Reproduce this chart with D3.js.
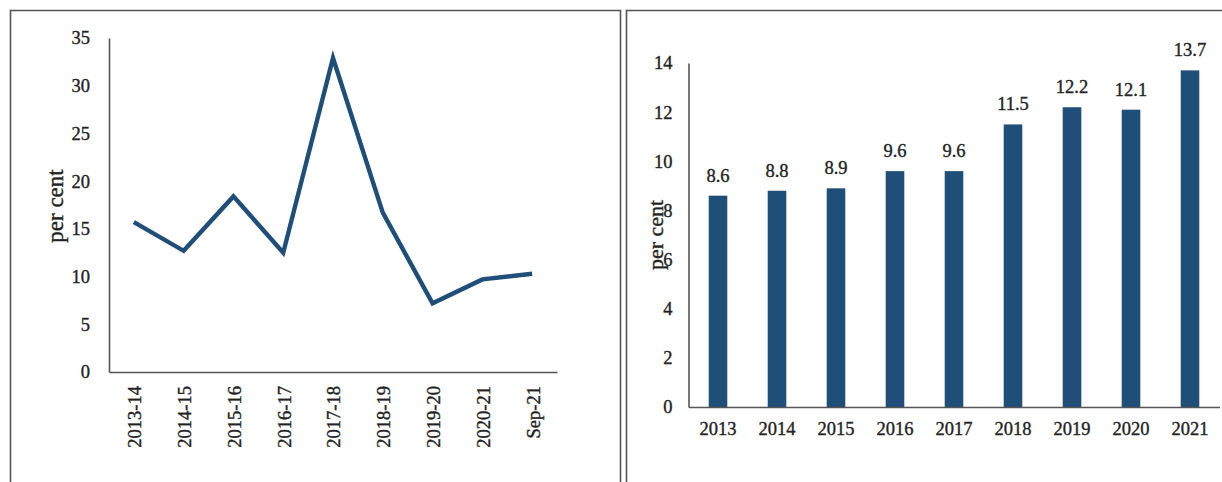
<!DOCTYPE html>
<html>
<head>
<meta charset="utf-8">
<script src="https://cdn.jsdelivr.net/npm/d3@7"></script>
<style>
  html, body { margin: 0; padding: 0; background: #fff; }
  svg { display: block; }
  text { font-family: "Liberation Serif", "DejaVu Serif", serif; fill: #222; stroke: #222; stroke-width: 0.35px; }
</style>
</head>
<body>
<svg id="chart" width="1222" height="482"></svg>
<script>
// Left panel: growth, per cent, by fiscal year
const lineCategories = ["2013-14", "2014-15", "2015-16", "2016-17", "2017-18", "2018-19", "2019-20", "2020-21", "Sep-21"];
const lineValues = [15.7, 12.7, 18.4, 12.5, 32.9, 16.7, 7.2, 9.7, 10.3];
const lineTicks = [0, 5, 10, 15, 20, 25, 30, 35];

// Right panel: share, per cent, by year
const barCategories = ["2013", "2014", "2015", "2016", "2017", "2018", "2019", "2020", "2021"];
const barValues = [8.6, 8.8, 8.9, 9.6, 9.6, 11.5, 12.2, 12.1, 13.7];
const barTicks = [0, 2, 4, 6, 8, 10, 12, 14];

const navy = "#1f4e79";
const axisColor = "#555";
const svg = d3.select("#chart");

// Panel frames (open at the bottom)
svg.append("path")
  .attr("d", "M10.5,482 V10.5 H620.5 V482")
  .attr("fill", "none").attr("stroke", "#555").attr("stroke-width", 1.6);
svg.append("path")
  .attr("d", "M626.5,482 V10.5 H1222")
  .attr("fill", "none").attr("stroke", "#555").attr("stroke-width", 1.6);

function styleAxis(g) {
  g.select(".domain").attr("stroke", axisColor).attr("stroke-width", 1.6);
  g.selectAll("text").attr("font-size", 18.5).attr("fill", "#222")
    .attr("font-family", "'Liberation Serif', serif");
}

// ---- Line chart ----
const xL = d3.scaleBand().domain(lineCategories).range([109, 557]);
const yL = d3.scaleLinear().domain([0, 35]).range([372, 38]);

svg.append("g")
  .attr("transform", "translate(109,0)")
  .call(d3.axisLeft(yL).tickValues(lineTicks).tickSize(0).tickSizeOuter(0).tickPadding(19))
  .call(styleAxis);

const gxL = svg.append("g")
  .attr("transform", "translate(0,372)")
  .call(d3.axisBottom(xL).tickSize(0).tickSizeOuter(0))
  .call(styleAxis);
gxL.selectAll(".tick text")
  .attr("text-anchor", "end")
  .attr("dy", "0.35em")
  .attr("transform", "translate(1,14) rotate(-90)")
  .attr("x", 0).attr("y", 0);

svg.append("path")
  .datum(lineValues)
  .attr("fill", "none")
  .attr("stroke", navy)
  .attr("stroke-width", 4.4)
  .attr("stroke-linejoin", "miter")
  .attr("d", d3.line()
    .x((d, i) => xL(lineCategories[i]) + xL.bandwidth() / 2)
    .y(d => yL(d)));

svg.append("text")
  .attr("transform", "translate(55,206) rotate(-90)")
  .attr("text-anchor", "middle")
  .attr("dy", "0.35em")
  .attr("font-size", 23)
  .text("per cent");

// ---- Bar chart ----
const xR = d3.scaleBand().domain(barCategories).range([688.5, 1219.5]);
const yR = d3.scaleLinear().domain([0, 14]).range([407, 63]);
const barW = xR.bandwidth() * 0.315;

svg.selectAll("rect.bar")
  .data(barValues)
  .join("rect")
  .attr("class", "bar")
  .attr("x", (d, i) => xR(barCategories[i]) + (xR.bandwidth() - barW) / 2)
  .attr("width", barW)
  .attr("y", d => yR(d))
  .attr("height", d => yR(0) - yR(d))
  .attr("fill", navy);

svg.selectAll("text.val")
  .data(barValues)
  .join("text")
  .attr("class", "val")
  .attr("x", (d, i) => xR(barCategories[i]) + xR.bandwidth() / 2)
  .attr("y", d => yR(d) - 14)
  .attr("text-anchor", "middle")
  .attr("font-size", 18.5)
  .text(d => d.toFixed(1));

svg.append("g")
  .attr("transform", "translate(688.5,0)")
  .call(d3.axisLeft(yR).tickValues(barTicks).tickSize(0).tickSizeOuter(0).tickPadding(16))
  .call(styleAxis);

svg.append("g")
  .attr("transform", "translate(0,407)")
  .call(d3.axisBottom(xR).tickSize(0).tickSizeOuter(0).tickPadding(15))
  .call(styleAxis);

svg.append("text")
  .attr("transform", "translate(655,235) rotate(-90)")
  .attr("text-anchor", "middle")
  .attr("dy", "0.35em")
  .attr("font-size", 22)
  .text("per cent");
</script>
</body>
</html>
